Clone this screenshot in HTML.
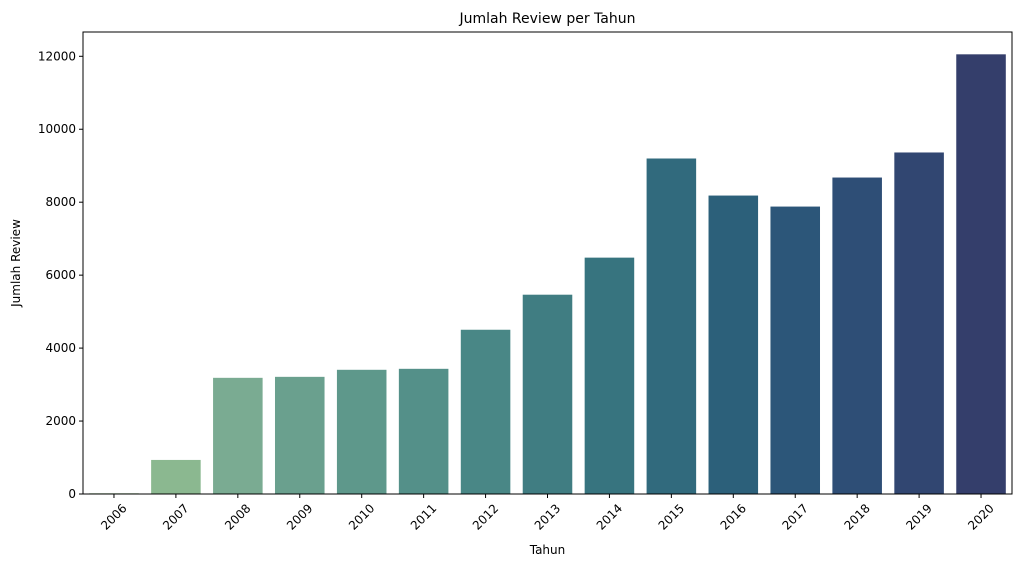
<!DOCTYPE html>
<html><head><meta charset="utf-8"><style>
body{margin:0;background:#fff;font-family:"Liberation Sans","DejaVu Sans",sans-serif}
svg text{font-family:"DejaVu Sans","Liberation Sans",sans-serif;fill:#000}
</style></head><body>
<svg id="chart" width="1023" height="568"></svg>
<script>
const categories=["2006","2007","2008","2009","2010","2011","2012","2013","2014","2015","2016","2017","2018","2019","2020"];
const values=[20,934,3185,3212,3405,3432,4503,5464,6480,9198,8182,7880,8676,9363,12054];
const colors=["#a3cc9f","#8bb890","#7aab92","#6aa08e","#5e988b","#549089","#498786","#407d82","#37747f","#316a7d","#2c607a","#2c5679","#2e4e76","#314671","#343e6b"];
const yTicks=[0,2000,4000,6000,8000,10000,12000];
const L=83,R=1012,T=32,B=494,yMax=12666;
const svg=document.getElementById('chart');
const NS="http://www.w3.org/2000/svg";
function y(v){return B-(v/yMax)*(B-T);}
const step=(R-L)/categories.length;
function x(i){return L+step*i+step/2;}
function mk(t,a,txt){const e=document.createElementNS(NS,t);for(const k in a)e.setAttribute(k,a[k]);if(txt!==undefined)e.textContent=txt;svg.appendChild(e);return e;}
values.forEach((v,i)=>{
const r=mk('rect',{x:x(i)-step*0.4,y:y(v),width:step*0.8,height:B-y(v),fill:colors[i]});


});
const fr=mk('rect',{x:L,y:T,width:R-L,height:B-T,fill:'none',stroke:'#000','stroke-width':1});


yTicks.forEach(t=>{
mk('line',{x1:L-4,x2:L,y1:y(t),y2:y(t),stroke:'#000'});
const tx=mk('text',{x:L-7,y:y(t)+4,'text-anchor':'end','font-size':12},t);


});
categories.forEach((c,i)=>{
mk('line',{x1:x(i),x2:x(i),y1:B,y2:B+4,stroke:'#000'});
const cy=B+23;
const tx=mk('text',{x:x(i),y:cy+4,'text-anchor':'middle','font-size':12,transform:`rotate(-45 ${x(i)} ${cy})`},c);


});
const ti=mk('text',{x:(L+R)/2,y:T-9,'text-anchor':'middle','font-size':14},'Jumlah Review per Tahun');


const xt=mk('text',{x:(L+R)/2,y:554,'text-anchor':'middle','font-size':12},'Tahun');


const yt=mk('text',{x:20,y:(T+B)/2,'text-anchor':'middle','font-size':12,transform:`rotate(-90 20 ${(T+B)/2})`},'Jumlah Review');


</script>
</body></html>
